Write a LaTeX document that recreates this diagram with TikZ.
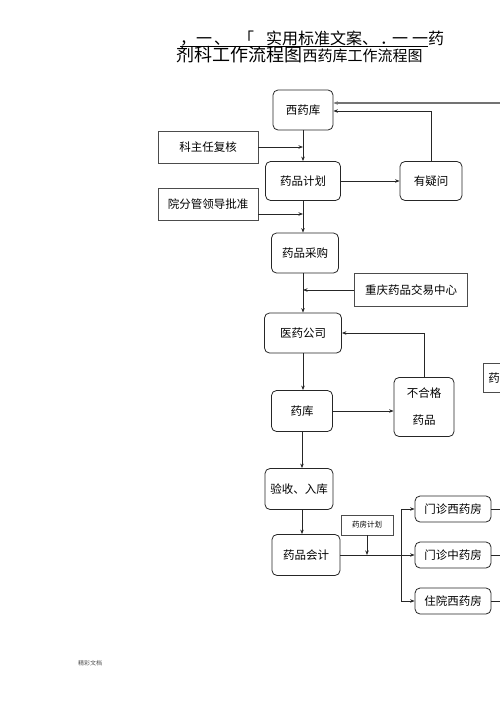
\documentclass[tikz,border=0pt]{standalone}
\usepackage{fontspec}
\setmainfont{Liberation Serif}
\newfontfamily\cjk{Noto Sans CJK SC}
\usetikzlibrary{arrows.meta,positioning}

\begin{document}
\begin{tikzpicture}[x=1pt,y=-1pt]
		\tikzstyle{every node}=[font=\cjk\fontsize{11.5}{14}\selectfont, inner sep=0pt]
		\tikzstyle{roundbox}=[draw=black!85, line width=0.8pt, rounded corners=5pt]
		\tikzstyle{plainbox}=[draw=black!70, line width=0.7pt]
		\tikzstyle{arr}=[line width=0.8pt, black!85, -{Stealth[length=4.5pt,width=3.5pt]}]
		\useasboundingbox (0,0) rectangle (500,707);
		% title
		\foreach \x/\t in {180/，,196/一,214/、,238/「,266/实用标准文案,362/、,380/．,392/一,412/一药}
			\node [anchor=base west, font=\cjk\fontsize{16}{18}\selectfont] at (\x,44) {\t};
		\draw [line width=0.6pt] (180,46) -- (428,46);
		\node [anchor=base west, font=\cjk\fontsize{18}{20}\selectfont] (title) at (176,61) {剂科工作流程图};
		\node [anchor=base west, font=\cjk\fontsize{15}{17}\selectfont] at (title.base east) {西药库工作流程图};
		% boxes
		\node [roundbox, minimum width=60, minimum height=40] (xiyaoku) at (303,110) {西药库};
		\node [plainbox, minimum width=100, minimum height=32] (kezhuren) at (208,147) {科主任复核};
		\node [roundbox, minimum width=75, minimum height=39] (jihua) at (303,181) {药品计划};
		\node [roundbox, minimum width=62, minimum height=39] (yiwen) at (431,181) {有疑问};
		\node [plainbox, minimum width=100, minimum height=32] (pizhun) at (208,204) {院分管领导批准};
		\node [roundbox, minimum width=67, minimum height=40] (caigou) at (305,253) {药品采购};
		\node [plainbox, minimum width=113, minimum height=33] (jiaoyi) at (411,290) {重庆药品交易中心};
		\node [roundbox, minimum width=77, minimum height=40] (gongsi) at (303,333) {医药公司};
		\node [roundbox, minimum width=60, minimum height=59, align=center, font=\cjk\fontsize{11.5}{27}\selectfont] (buhege) at (424,407) {不合格\\药品};
		\node [roundbox, minimum width=61, minimum height=41] (yaoku) at (302,411) {药库};
		\node [roundbox, minimum width=68, minimum height=41] (yanshou) at (299,489) {验收、入库};
		\node [roundbox, minimum width=68, minimum height=41] (kuaiji) at (306,555) {药品会计};
		\node [plainbox, minimum width=52, minimum height=20, font=\cjk\fontsize{7.5}{9}\selectfont] (fangjihua) at (367,525) {药房计划};
		\node [roundbox, minimum width=76, minimum height=26] (menxi) at (453,509) {门诊西药房};
		\node [roundbox, minimum width=76, minimum height=26] (menzhong) at (453,555) {门诊中药房};
		\node [roundbox, minimum width=76, minimum height=26] (zhuyuan) at (453,601) {住院西药房};
		\node [plainbox, anchor=west, minimum height=29, inner xsep=5pt] (yaofang) at (483,378) {药};
		\node [font=\cjk\fontsize{6}{7}\selectfont, black!70] at (90,663) {精彩文档};
		% connectors
		\coordinate (topin) at (505,103);
		\coordinate (fork) at (401,555);
		\draw [arr, line width=1.4pt, black!55] (topin) -- (topin -| xiyaoku.east);
		\draw [arr] (xiyaoku.south) -- (xiyaoku.south |- jihua.north);
		\draw [arr] (kezhuren.east) -- (kezhuren.east -| xiyaoku.south);
		\draw [arr] (jihua.east) -- (yiwen.west);
		\draw [arr] (yiwen.north) |- ([yshift=-1pt]xiyaoku.east);
		\draw [arr] (jihua.south -| xiyaoku.south) -- (xiyaoku.south |- caigou.north);
		\draw [arr] ([yshift=-10pt]pizhun.east) -- ([yshift=-10pt]pizhun.east -| xiyaoku.south);
		\draw [arr] (caigou.south -| xiyaoku.south) -- (xiyaoku.south |- gongsi.north);
		\draw [arr] (jiaoyi.west) -- (jiaoyi.west -| xiyaoku.south);
		\draw [arr] (buhege.north) |- (gongsi.east);
		\draw [arr] (gongsi.south -| xiyaoku.south) -- (xiyaoku.south |- yaoku.north);
		\draw [arr] (yaoku.east) -- (yaoku.east -| buhege.west);
		\draw [arr] (yaoku.south) -- (yaoku.south |- yanshou.north);
		\draw [arr] (yaoku.south |- yanshou.south) -- (yaoku.south |- kuaiji.north);
		\draw [arr] (kuaiji.east) -- (menzhong.west);
		\draw [arr] (fangjihua.south) -- (fangjihua.south |- kuaiji.east);
		\draw [arr] (fork) |- (menxi.west);
		\draw [arr] (fork) |- (zhuyuan.west);
		\draw [line width=0.8pt, black!85] (menxi.east) -- ++(15,0);
		\draw [line width=0.8pt, black!85] (menzhong.east) -- ++(15,0);
		\draw [line width=0.8pt, black!85] (zhuyuan.east) -- ++(15,0);
	\end{tikzpicture}
\end{document}
